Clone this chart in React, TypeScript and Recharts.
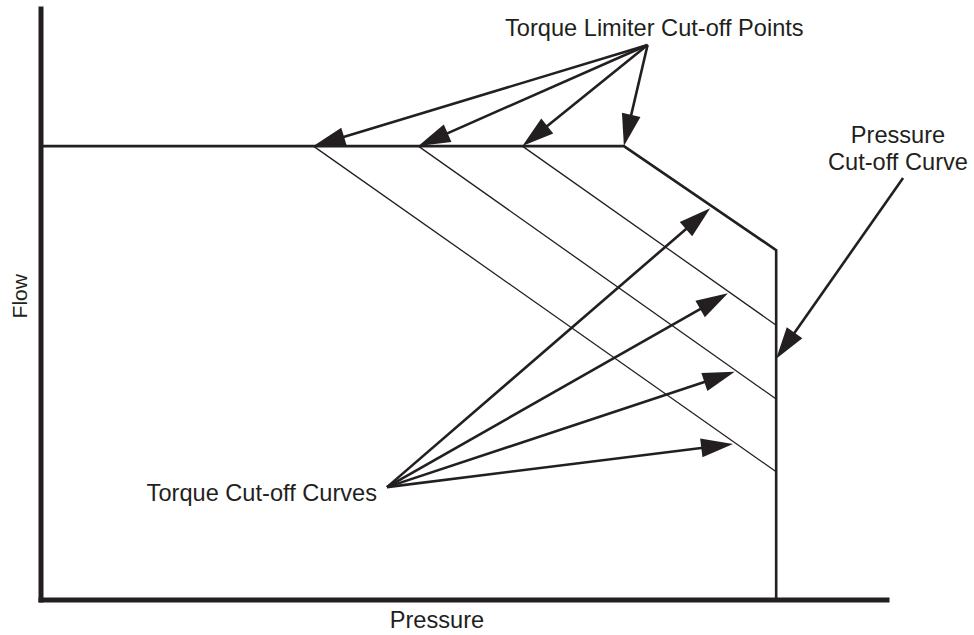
import { ComposedChart, Line, XAxis, YAxis, ReferenceLine, ReferenceDot } from 'recharts';

const INK = '#231f20';
const FONT = '"Liberation Sans", Arial, sans-serif';

// flow/pressure in % of axis range
const limitFlow = 76.8;
const cutoffPressure = 86.9;
const mainCurve = [
  { p: 0, f: limitFlow },
  { p: 68.9, f: limitFlow },
  { p: cutoffPressure, f: 59.2 },
  { p: cutoffPressure, f: 0 },
];

// torque cut-off curves: start pressure on the limit line, end flow at pressure cut-off
const torqueStart = [32.2, 44.6, 56.9];
const torqueEndFlow = [21.7, 34.0, 46.5];

// callout arrows
const limiterOrigin = { p: 71.7, f: 93.9 };
const limiterTips = [32.2, 44.6, 56.9, 68.9];
const torqueOrigin = { p: 40.9, f: 19.1 };
const torqueTips = [
  { p: 79.1, f: 66.3 },
  { p: 81.2, f: 51.9 },
  { p: 82.0, f: 38.6 },
  { p: 81.8, f: 26.4 },
];
const pressureOrigin = { p: 101.9, f: 71.4 };
const pressureTip = { p: cutoffPressure, f: 40.8 };

const labels = [
  { p: 72.5, f: 96.8, text: 'Torque Limiter Cut-off Points', angle: 0, size: 23.6 },
  { p: 101.3, f: 78.7, text: 'Pressure', angle: 0, size: 23.6 },
  { p: 101.3, f: 74.1, text: 'Cut-off Curve', angle: 0, size: 23.6 },
  { p: 26.1, f: 18.1, text: 'Torque Cut-off Curves', angle: 0, size: 23.6 },
  { p: 46.8, f: -3.4, text: 'Pressure', angle: 0, size: 23.6 },
  { p: -2.5, f: 51.4, text: 'Flow', angle: -90, size: 21 },
];

// eslint-disable-next-line @typescript-eslint/no-explicit-any
function Arrow(props: any) {
  const { x1, y1, x2, y2 } = props;
  const dx = x2 - x1;
  const dy = y2 - y1;
  const len = Math.hypot(dx, dy) || 1;
  const ux = dx / len;
  const uy = dy / len;
  const hl = 32;
  const hw = 9.5;
  const bx = x2 - ux * hl;
  const by = y2 - uy * hl;
  const pts = `${x2},${y2} ${bx - uy * hw},${by + ux * hw} ${bx + uy * hw},${by - ux * hw}`;
  return (
    <g>
      <line x1={x1} y1={y1} x2={bx + ux * 4} y2={by + uy * 4} stroke={INK} strokeWidth={2.6} />
      <polygon points={pts} fill={INK} />
    </g>
  );
}

// eslint-disable-next-line @typescript-eslint/no-explicit-any
const makeLabel = (text: string, angle: number, size: number) => (props: any) => {
  const { cx, cy } = props;
  return (
    <text
      x={cx}
      y={cy}
      textAnchor="middle"
      dominantBaseline="central"
      transform={angle ? `rotate(${angle} ${cx} ${cy})` : undefined}
      fill={INK}
      fontFamily={FONT}
      fontSize={size}
    >
      {text}
    </text>
  );
};

const axisLineStyle = { stroke: INK, strokeWidth: 5, strokeLinecap: 'square' as const };

export default function App() {
  return (
    <div style={{ position: 'absolute', left: 0, top: 0, background: '#fff' }}>
      <ComposedChart width={974} height={635} margin={{ top: 9, right: 87, bottom: 34, left: 40 }}>
        <XAxis
          type="number"
          dataKey="p"
          domain={[0, 100]}
          allowDataOverflow
          height={1}
          tick={false}
          tickLine={false}
          axisLine={axisLineStyle}
        />
        <YAxis
          type="number"
          dataKey="f"
          domain={[0, 100]}
          allowDataOverflow
          width={1}
          tick={false}
          tickLine={false}
          axisLine={axisLineStyle}
        />

        {torqueStart.map((p, i) => (
          <ReferenceLine
            key={`t${i}`}
            segment={[
              { x: p, y: limitFlow },
              { x: cutoffPressure, y: torqueEndFlow[i] },
            ]}
            stroke={INK}
            strokeWidth={1.3}
            ifOverflow="visible"
          />
        ))}

        <Line
          data={mainCurve}
          dataKey="f"
          type="linear"
          stroke={INK}
          strokeWidth={2.6}
          strokeLinejoin="miter"
          dot={false}
          activeDot={false}
          isAnimationActive={false}
        />

        {limiterTips.map((p, i) => (
          <ReferenceLine
            key={`l${i}`}
            segment={[
              { x: limiterOrigin.p, y: limiterOrigin.f },
              { x: p, y: limitFlow },
            ]}
            shape={Arrow}
            ifOverflow="visible"
          />
        ))}
        {torqueTips.map((t, i) => (
          <ReferenceLine
            key={`a${i}`}
            segment={[
              { x: torqueOrigin.p, y: torqueOrigin.f },
              { x: t.p, y: t.f },
            ]}
            shape={Arrow}
            ifOverflow="visible"
          />
        ))}
        <ReferenceLine
          segment={[
            { x: pressureOrigin.p, y: pressureOrigin.f },
            { x: pressureTip.p, y: pressureTip.f },
          ]}
          shape={Arrow}
          ifOverflow="visible"
        />

        {labels.map((l, i) => (
          <ReferenceDot
            key={`lb${i}`}
            x={l.p}
            y={l.f}
            r={0}
            ifOverflow="visible"
            shape={makeLabel(l.text, l.angle, l.size)}
          />
        ))}
      </ComposedChart>
    </div>
  );
}
